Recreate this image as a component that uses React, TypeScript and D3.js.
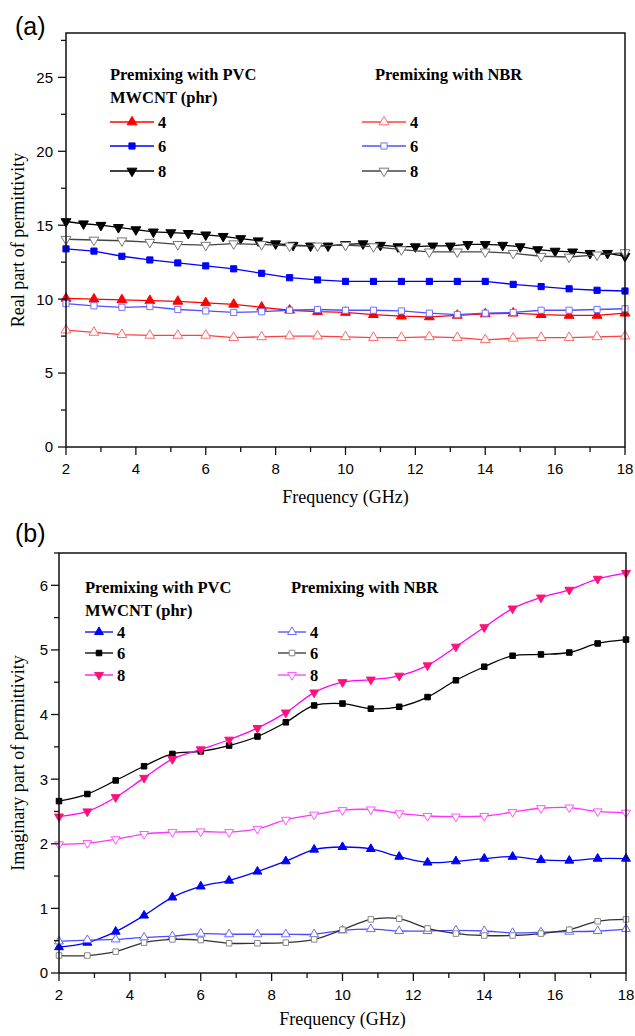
import * as d3 from "d3";

// frequencies (GHz) of the sampled points
const freq = [2, 2.8, 3.6, 4.4, 5.2, 6, 6.8, 7.6, 8.4, 9.2, 10, 10.8, 11.6, 12.4, 13.2, 14, 14.8, 15.6, 16.4, 17.2, 18];
const freqFine = [2, 2.5, 3, 3.5, 4, 4.5, 5, 5.5, 6, 6.5, 7, 7.5, 8, 8.5, 9, 9.5, 10, 10.5, 11, 11.5, 12, 12.5, 13, 13.5, 14, 14.5, 15, 15.5, 16, 16.5, 17, 17.5, 18];

// (a) real part
const realPvc4 = [10.05, 10.0, 9.95, 9.9, 9.85, 9.75, 9.65, 9.45, 9.25, 9.15, 9.1, 8.95, 8.85, 8.8, 8.9, 9.0, 9.05, 8.95, 8.9, 8.9, 9.05];
const realPvc6 = [13.4, 13.25, 12.9, 12.65, 12.45, 12.25, 12.05, 11.75, 11.45, 11.3, 11.2, 11.2, 11.2, 11.2, 11.2, 11.2, 11.0, 10.85, 10.7, 10.6, 10.55];
const realPvc8 = [15.25, 15.1, 15.0, 14.85, 14.7, 14.55, 14.5, 14.45, 14.35, 14.25, 14.1, 13.95, 13.75, 13.65, 13.6, 13.6, 13.7, 13.75, 13.65, 13.55, 13.55, 13.6, 13.6, 13.7, 13.7, 13.65, 13.55, 13.35, 13.25, 13.2, 13.1, 13.1, 12.9];
const realNbr4 = [7.9, 7.75, 7.6, 7.55, 7.55, 7.55, 7.4, 7.45, 7.5, 7.5, 7.45, 7.4, 7.4, 7.45, 7.4, 7.25, 7.35, 7.4, 7.4, 7.45, 7.5];
const realNbr6 = [9.7, 9.55, 9.45, 9.5, 9.3, 9.2, 9.1, 9.15, 9.25, 9.3, 9.25, 9.25, 9.2, 9.05, 8.95, 9.05, 9.1, 9.25, 9.25, 9.3, 9.35];
const realNbr8 = [14.05, 14.0, 13.95, 13.85, 13.7, 13.65, 13.75, 13.7, 13.6, 13.6, 13.65, 13.55, 13.35, 13.2, 13.2, 13.2, 13.1, 12.9, 12.85, 13.0, 13.15];

// (b) imaginary part
const imPvc4 = [0.4, 0.47, 0.64, 0.89, 1.17, 1.34, 1.43, 1.57, 1.73, 1.91, 1.95, 1.92, 1.8, 1.71, 1.73, 1.77, 1.8, 1.75, 1.74, 1.77, 1.77];
const imPvc6 = [2.66, 2.77, 2.98, 3.2, 3.39, 3.43, 3.52, 3.66, 3.88, 4.14, 4.17, 4.09, 4.12, 4.27, 4.53, 4.74, 4.91, 4.93, 4.96, 5.1, 5.16];
const imPvc8 = [2.42, 2.5, 2.72, 3.02, 3.31, 3.46, 3.61, 3.79, 4.03, 4.34, 4.5, 4.54, 4.6, 4.76, 5.05, 5.35, 5.64, 5.81, 5.93, 6.1, 6.19];
const imNbr4 = [0.49, 0.51, 0.52, 0.55, 0.57, 0.61, 0.6, 0.6, 0.6, 0.6, 0.66, 0.68, 0.65, 0.65, 0.66, 0.65, 0.62, 0.63, 0.64, 0.65, 0.68];
const imNbr6 = [0.27, 0.27, 0.33, 0.47, 0.52, 0.51, 0.46, 0.46, 0.47, 0.52, 0.67, 0.83, 0.84, 0.69, 0.61, 0.58, 0.58, 0.61, 0.67, 0.8, 0.83];
const imNbr8 = [1.99, 2.01, 2.07, 2.15, 2.18, 2.19, 2.18, 2.23, 2.37, 2.45, 2.52, 2.53, 2.47, 2.43, 2.42, 2.43, 2.49, 2.55, 2.56, 2.5, 2.48];

const xTicks = [2, 4, 6, 8, 10, 12, 14, 16, 18];
const xMinor = [3, 5, 7, 9, 11, 13, 15, 17];
const realTicks = [0, 5, 10, 15, 20, 25];
const realMinor = [2.5, 7.5, 12.5, 17.5, 22.5, 27.5];
const imTicks = [0, 1, 2, 3, 4, 5, 6];
const imMinor = [0.5, 1.5, 2.5, 3.5, 4.5, 5.5, 6.5];
const mwcnt = ["4", "6", "8"];

const serif = "'Liberation Serif', 'Times New Roman', serif";
const sans = "'Liberation Sans', Arial, sans-serif";

type Series = {
  x: number[];
  y: number[];
  line: string;
  stroke: string;
  fill: string;
  shape: "up" | "down" | "square";
};

function Marker({ cx, cy, s, size }: { cx: number; cy: number; s: Series; size: number }) {
  const type = s.shape === "square" ? d3.symbolSquare : d3.symbolTriangle;
  const area = s.shape === "square" ? size * 0.9 : size;
  const d = d3.symbol(type, area)() as string;
  const rot = s.shape === "down" ? 180 : 0;
  return (
    <path
      d={d}
      transform={`translate(${cx},${cy}) rotate(${rot})`}
      fill={s.fill}
      stroke={s.stroke}
      strokeWidth={1}
    />
  );
}

function Panel(props: {
  left: number;
  right: number;
  top: number;
  bottom: number;
  yMax: number;
  yTicks: number[];
  yMinor: number[];
  series: Series[];
  smooth: boolean;
  tag: string;
  tagY: number;
  yTitle: string;
  xLabelY: number;
  xTitleY: number;
  yLabelGap: number;
  markerSize: number;
  legend: {
    pvcX: number;
    titleY: number;
    rowY: number[];
    lineW: number;
    nbrX: number;
  };
}) {
  const p = props;
  const x = d3.scaleLinear().domain([2, 18]).range([p.left, p.right]);
  const y = d3.scaleLinear().domain([0, p.yMax]).range([p.bottom, p.top]);
  const line = d3
    .line<[number, number]>()
    .x((d) => x(d[0]))
    .y((d) => y(d[1]))
    .curve(p.smooth ? d3.curveCatmullRom.alpha(0.5) : d3.curveLinear);
  const lg = p.legend;

  return (
    <g>
      <text x={15} y={p.tagY} fontFamily={sans} fontSize={25}>
        {p.tag}
      </text>
      {/* series */}
      {p.series.map((s, i) => (
        <g key={i}>
          <path
            d={line(s.x.map((v, j) => [v, s.y[j]] as [number, number])) as string}
            fill="none"
            stroke={s.line}
            strokeWidth={1.3}
          />
          {s.x.map((v, j) => (
            <Marker key={j} cx={x(v)} cy={y(s.y[j])} s={s} size={p.markerSize} />
          ))}
        </g>
      ))}
      {/* frame */}
      <rect
        x={p.left}
        y={p.top}
        width={p.right - p.left}
        height={p.bottom - p.top}
        fill="none"
        stroke="#111"
        strokeWidth={1.5}
      />
      {/* x axis */}
      {xTicks.map((t) => (
        <g key={t}>
          <line x1={x(t)} x2={x(t)} y1={p.bottom} y2={p.bottom + 8} stroke="#111" strokeWidth={1.3} />
          <text x={x(t)} y={p.xLabelY} textAnchor="middle" fontFamily={sans} fontSize={15}>
            {t}
          </text>
        </g>
      ))}
      {xMinor.map((t) => (
        <line key={t} x1={x(t)} x2={x(t)} y1={p.bottom} y2={p.bottom + 5} stroke="#111" strokeWidth={1.3} />
      ))}
      <text x={(p.left + p.right) / 2} y={p.xTitleY} textAnchor="middle" fontFamily={serif} fontSize={18}>
        Frequency (GHz)
      </text>
      {/* y axis */}
      {p.yTicks.map((t) => (
        <g key={t}>
          <line x1={p.left - 8} x2={p.left} y1={y(t)} y2={y(t)} stroke="#111" strokeWidth={1.3} />
          <text
            x={p.left - p.yLabelGap}
            y={y(t)}
            dy="0.36em"
            textAnchor="end"
            fontFamily={sans}
            fontSize={15}
          >
            {t}
          </text>
        </g>
      ))}
      {p.yMinor.map((t) => (
        <line key={t} x1={p.left - 5} x2={p.left} y1={y(t)} y2={y(t)} stroke="#111" strokeWidth={1.3} />
      ))}
      <text
        transform={`translate(24,${(p.top + p.bottom) / 2}) rotate(-90)`}
        textAnchor="middle"
        fontFamily={serif}
        fontSize={18}
      >
        {p.yTitle}
      </text>
      {/* legend */}
      <g fontFamily={serif} fontWeight="bold" fontSize={16.5}>
        <text x={lg.pvcX} y={lg.titleY}>
          Premixing with PVC
        </text>
        <text x={lg.pvcX} y={lg.titleY + 23}>
          MWCNT (phr)
        </text>
        <text x={lg.nbrX} y={lg.titleY}>
          Premixing with NBR
        </text>
        {mwcnt.map((m, i) => {
          const ry = lg.rowY[i];
          const sp = p.series[i];
          const sn = p.series[i + 3];
          return (
            <g key={m}>
              <line x1={lg.pvcX} x2={lg.pvcX + lg.lineW} y1={ry} y2={ry} stroke={sp.line} strokeWidth={1.3} />
              <Marker cx={lg.pvcX + lg.lineW / 2} cy={ry} s={sp} size={p.markerSize} />
              <text x={lg.pvcX + lg.lineW + 4} y={ry} dy="0.35em">
                {m}
              </text>
              <line x1={lg.nbrX - 13} x2={lg.nbrX - 13 + lg.lineW} y1={ry} y2={ry} stroke={sn.line} strokeWidth={1.3} />
              <Marker cx={lg.nbrX - 13 + lg.lineW / 2} cy={ry} s={sn} size={p.markerSize} />
              <text x={lg.nbrX - 13 + lg.lineW + 4} y={ry} dy="0.35em">
                {m}
              </text>
            </g>
          );
        })}
      </g>
    </g>
  );
}

export default function App() {
  const seriesA: Series[] = [
    { x: freq, y: realPvc4, line: "#ff0000", stroke: "#ff0000", fill: "#ff0000", shape: "up" },
    { x: freq, y: realPvc6, line: "#0000ff", stroke: "#0000ff", fill: "#0000ff", shape: "square" },
    { x: freqFine, y: realPvc8, line: "#000000", stroke: "#000000", fill: "#000000", shape: "down" },
    { x: freq, y: realNbr4, line: "#ff4040", stroke: "#ff6a6a", fill: "#ffffff", shape: "up" },
    { x: freq, y: realNbr6, line: "#5050ff", stroke: "#7070ff", fill: "#ffffff", shape: "square" },
    { x: freq, y: realNbr8, line: "#444444", stroke: "#777777", fill: "#ffffff", shape: "down" },
  ];
  const seriesB: Series[] = [
    { x: freq, y: imPvc4, line: "#0000ff", stroke: "#0000ff", fill: "#0000ff", shape: "up" },
    { x: freq, y: imPvc6, line: "#000000", stroke: "#000000", fill: "#000000", shape: "square" },
    { x: freq, y: imPvc8, line: "#ff00ff", stroke: "#ff1177", fill: "#ff1177", shape: "down" },
    { x: freq, y: imNbr4, line: "#4a4aff", stroke: "#6a6aff", fill: "#ffffff", shape: "up" },
    { x: freq, y: imNbr6, line: "#333333", stroke: "#888888", fill: "#ffffff", shape: "square" },
    { x: freq, y: imNbr8, line: "#ff33ff", stroke: "#ff55ff", fill: "#ffffff", shape: "down" },
  ];

  return (
    <svg
      width={635}
      height={1036}
      style={{ position: "absolute", left: 0, top: 0, background: "#fff" }}
    >
      <Panel
        left={66}
        right={625}
        top={33}
        bottom={447}
        yMax={28}
        yTicks={realTicks}
        yMinor={realMinor}
        series={seriesA}
        smooth={false}
        tag="(a)"
        tagY={35}
        yTitle="Real part of permittivity"
        xLabelY={474}
        xTitleY={503}
        yLabelGap={13}
        markerSize={42}
        legend={{ pvcX: 110, titleY: 80, rowY: [122, 146, 171], lineW: 44, nbrX: 375 }}
      />
      <Panel
        left={59}
        right={626}
        top={553}
        bottom={973}
        yMax={6.5}
        yTicks={imTicks}
        yMinor={imMinor}
        series={seriesB}
        smooth={true}
        tag="(b)"
        tagY={542}
        yTitle="Imaginary part of permittivity"
        xLabelY={1000}
        xTitleY={1025}
        yLabelGap={11}
        markerSize={34}
        legend={{ pvcX: 85, titleY: 593, rowY: [632, 653, 675], lineW: 28, nbrX: 291 }}
      />
    </svg>
  );
}
